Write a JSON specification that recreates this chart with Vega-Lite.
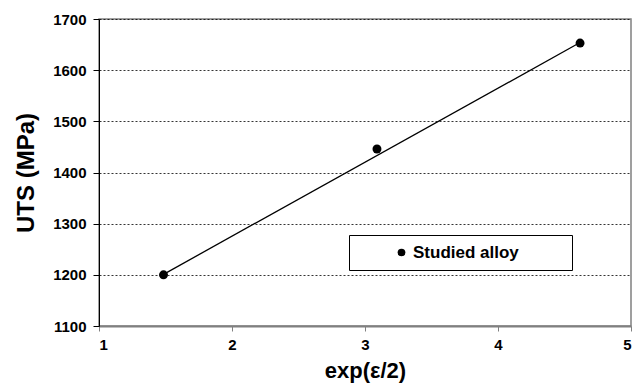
{
  "$schema": "https://vega.github.io/schema/vega-lite/v6.json",
  "width": 532,
  "height": 307,
  "autosize": "none",
  "padding": {"left": 99, "top": 19, "right": 5, "bottom": 62},
  "background": "white",
  "config": {
    "font": "Liberation Sans",
    "view": {"stroke": "#808080", "strokeWidth": 1.5}
  },
  "datasets": {
    "points": [
      {"x": 1.485, "uts": 1200, "series": "Studied alloy"},
      {"x": 3.09, "uts": 1446, "series": "Studied alloy"},
      {"x": 4.617, "uts": 1653, "series": "Studied alloy"}
    ],
    "fit": [
      {"x": 1.485, "uts": 1201},
      {"x": 4.617, "uts": 1654}
    ]
  },
  "layer": [
    {
      "data": {"name": "fit"},
      "mark": {"type": "line", "color": "black", "strokeWidth": 1.3},
      "encoding": {
        "x": {"field": "x", "type": "quantitative"},
        "y": {"field": "uts", "type": "quantitative"}
      }
    },
    {
      "data": {"name": "points"},
      "mark": {"type": "point", "filled": true, "shape": "circle", "size": 80, "opacity": 1},
      "encoding": {
        "x": {
          "field": "x",
          "type": "quantitative",
          "scale": {"domain": [1, 5], "nice": false, "zero": false},
          "axis": {
            "values": [1, 2, 3, 4, 5],
            "format": "d",
            "title": "exp(ε/2)",
            "titleFont": "Liberation Sans",
            "titleFontSize": 22,
            "titleFontWeight": "bold",
            "titleColor": "black",
            "titlePadding": 8,
            "labelFont": "Liberation Sans",
            "labelFontSize": 15,
            "labelFontWeight": "bold",
            "labelColor": "black",
            "labelPadding": 6,
            "tickSize": 5,
            "tickColor": "#808080",
            "domainColor": "#808080",
            "domainWidth": 2,
            "grid": false
          }
        },
        "y": {
          "field": "uts",
          "type": "quantitative",
          "scale": {"domain": [1100, 1700], "nice": false, "zero": false},
          "axis": {
            "values": [1100, 1200, 1300, 1400, 1500, 1600, 1700],
            "format": "d",
            "title": "UTS (MPa)",
            "titleFont": "Liberation Sans",
            "titleFontSize": 24,
            "titleFontWeight": "bold",
            "titleColor": "black",
            "titlePadding": 14,
            "labelFont": "Liberation Sans",
            "labelFontSize": 15,
            "labelFontWeight": "bold",
            "labelColor": "black",
            "labelPadding": 7,
            "tickSize": 6,
            "tickColor": "black",
            "domainColor": "black",
            "domainWidth": 1,
            "grid": true,
            "gridColor": "black",
            "gridDash": [2, 2],
            "gridWidth": 0.8
          }
        },
        "color": {
          "field": "series",
          "type": "nominal",
          "scale": {"range": ["black"]},
          "legend": {
            "title": "\u00a0",
            "titleOrient": "right",
            "titlePadding": 44,
            "titleFontSize": 10,
            "orient": "none",
            "legendX": 250,
            "legendY": 216,
            "direction": "vertical",
            "strokeColor": "black",
            "fillColor": "white",
            "padding": 9,
            "symbolType": "circle",
            "symbolSize": 60,
            "symbolOffset": 35,
            "labelOffset": 3,
            "labelFont": "Liberation Sans",
            "labelFontSize": 17,
            "labelFontWeight": "bold",
            "labelColor": "black"
          }
        }
      }
    }
  ]
}
